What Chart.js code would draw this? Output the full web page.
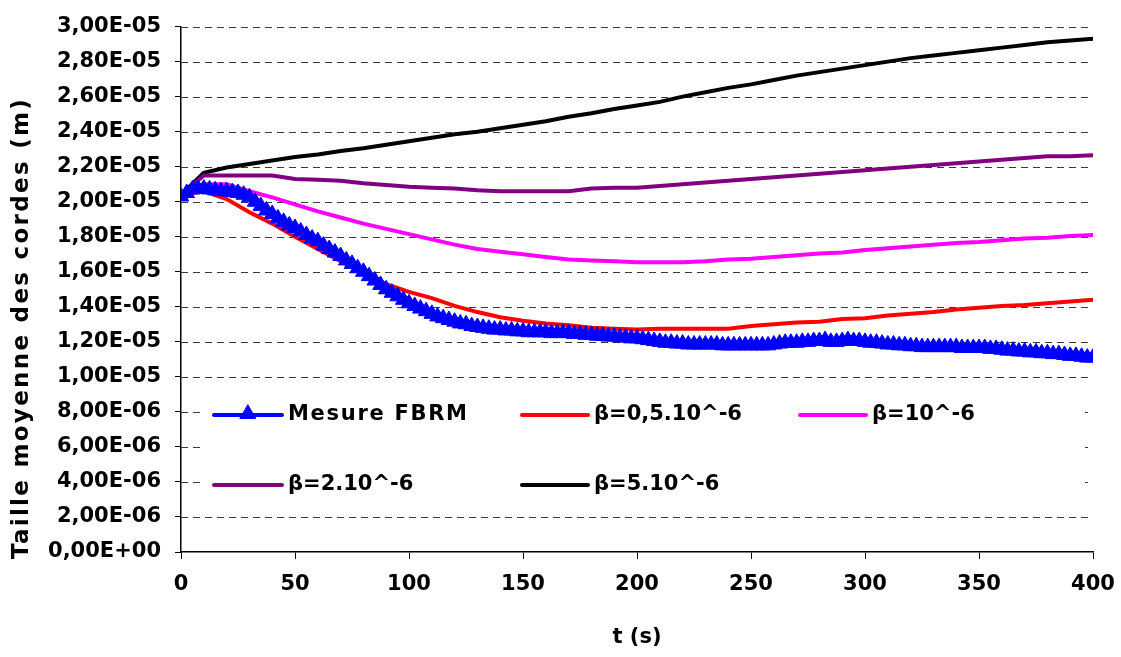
<!DOCTYPE html>
<html>
<head>
<meta charset="utf-8">
<script src="https://cdn.jsdelivr.net/npm/chart.js@4.4.0/dist/chart.umd.min.js"></script>
<style>
html, body { margin: 0; padding: 0; background: #fff; }
</style>
</head>
<body>
<canvas id="myChart" width="1121" height="657"></canvas>
<script>
// valeurs en micrometres (E-06 m)

// temps des simulations
const tModele = [0, 10, 20, 30, 40, 50, 60, 70, 80, 90, 100, 110, 120, 130, 140, 150, 160, 170, 180, 190, 200,
    210, 220, 230, 240, 250, 260, 270, 280, 290, 300, 310, 320, 330, 340, 350, 360, 370, 380, 390, 400];

const beta05 = [20.4, 20.6, 20.15, 19.4, 18.75, 18.0, 17.3, 16.6, 15.9, 15.3, 14.85, 14.5, 14.05, 13.7, 13.4, 13.2,
    13.05, 12.95, 12.8, 12.75, 12.7, 12.75, 12.75, 12.75, 12.75, 12.9, 13.0, 13.1, 13.15, 13.3, 13.35, 13.5, 13.6,
    13.7, 13.85, 13.95, 14.05, 14.1, 14.2, 14.3, 14.4];

const beta1 = [20.4, 21.0, 21.0, 20.6, 20.25, 19.85, 19.45, 19.1, 18.75, 18.45, 18.15, 17.85, 17.55, 17.3, 17.15,
    17.0, 16.85, 16.7, 16.65, 16.6, 16.55, 16.55, 16.55, 16.6, 16.7, 16.75, 16.85, 16.95, 17.05, 17.1, 17.25, 17.35,
    17.45, 17.55, 17.65, 17.7, 17.8, 17.9, 17.95, 18.05, 18.1];

const beta2 = [20.4, 21.5, 21.5, 21.5, 21.5, 21.3, 21.25, 21.2, 21.05, 20.95, 20.85, 20.8, 20.75, 20.65, 20.6, 20.6,
    20.6, 20.6, 20.75, 20.8, 20.8, 20.9, 21.0, 21.1, 21.2, 21.3, 21.4, 21.5, 21.6, 21.7, 21.8, 21.9, 22.0, 22.1, 22.2,
    22.3, 22.4, 22.5, 22.6, 22.6, 22.65];

const beta5 = [20.4, 21.65, 21.95, 22.15, 22.35, 22.55, 22.7, 22.9, 23.05, 23.25, 23.45, 23.65, 23.85, 24.0, 24.2,
    24.4, 24.6, 24.85, 25.05, 25.3, 25.5, 25.7, 26.0, 26.25, 26.5, 26.7, 26.95, 27.2, 27.4, 27.6, 27.8, 28.0, 28.2,
    28.35, 28.5, 28.65, 28.8, 28.95, 29.1, 29.2, 29.3];

// mesure FBRM
const tMesure = [0, 2.5, 5, 7.5, 10, 12.5, 15, 17.5, 20, 22.5, 25, 27.5, 30, 32.5, 35, 37.5, 40, 42.5, 45, 47.5,
    50, 52.5, 55, 57.5, 60, 62.5, 65, 67.5, 70, 72.5, 75, 77.5, 80, 82.5, 85, 87.5, 90, 92.5, 95, 97.5,
    100, 102.5, 105, 107.5, 110, 112.5, 115, 117.5, 120, 122.5, 125, 127.5, 130, 132.5, 135, 137.5, 140, 142.5, 145, 147.5,
    150, 152.5, 155, 157.5, 160, 162.5, 165, 167.5, 170, 172.5, 175, 177.5, 180, 182.5, 185, 187.5, 190, 192.5, 195, 197.5,
    200, 202.5, 205, 207.5, 210, 212.5, 215, 217.5, 220, 222.5, 225, 227.5, 230, 232.5, 235, 237.5, 240, 242.5, 245, 247.5,
    250, 252.5, 255, 257.5, 260, 262.5, 265, 267.5, 270, 272.5, 275, 277.5, 280, 282.5, 285, 287.5, 290, 292.5, 295, 297.5,
    300, 302.5, 305, 307.5, 310, 312.5, 315, 317.5, 320, 322.5, 325, 327.5, 330, 332.5, 335, 337.5, 340, 342.5, 345, 347.5,
    350, 352.5, 355, 357.5, 360, 362.5, 365, 367.5, 370, 372.5, 375, 377.5, 380, 382.5, 385, 387.5, 390, 392.5, 395, 397.5,
    400];

const mesureFBRM = [20.3, 20.5, 20.7, 20.75, 20.75, 20.7, 20.65, 20.6, 20.6, 20.55, 20.5, 20.4, 20.25, 20.0, 19.75, 19.5,
    19.3, 19.05, 18.85, 18.65, 18.5, 18.3, 18.1, 17.9, 17.75, 17.5, 17.3, 17.1, 16.9, 16.65, 16.45, 16.2, 16.0, 15.75,
    15.5, 15.25, 15.0, 14.8, 14.6, 14.4, 14.2, 14.05, 13.9, 13.75, 13.6, 13.45, 13.35, 13.25, 13.15, 13.05, 13.0, 12.9,
    12.85, 12.8, 12.75, 12.7, 12.7, 12.65, 12.65, 12.6, 12.6, 12.55, 12.55, 12.55, 12.55, 12.5, 12.5, 12.5, 12.5, 12.45,
    12.45, 12.4, 12.4, 12.35, 12.35, 12.3, 12.3, 12.25, 12.25, 12.2, 12.2, 12.15, 12.1, 12.05, 12.0, 11.95, 11.95, 11.9,
    11.9, 11.85, 11.85, 11.85, 11.85, 11.85, 11.85, 11.8, 11.8, 11.8, 11.8, 11.8, 11.8, 11.8, 11.8, 11.8, 11.85, 11.9,
    11.95, 11.95, 11.95, 12.0, 12.0, 12.05, 12.05, 12.1, 12.0, 12.0, 12.05, 12.1, 12.05, 12.05, 12.0, 11.95, 11.95, 11.9,
    11.85, 11.85, 11.8, 11.8, 11.75, 11.75, 11.7, 11.7, 11.7, 11.7, 11.7, 11.7, 11.7, 11.65, 11.65, 11.65, 11.65, 11.65,
    11.6, 11.6, 11.55, 11.5, 11.5, 11.45, 11.45, 11.4, 11.4, 11.35, 11.35, 11.3, 11.3, 11.25, 11.2, 11.2, 11.15, 11.1,
    11.1];

const yTicks = [0, 2, 4, 6, 8, 10, 12, 14, 16, 18, 20, 22, 24, 26, 28, 30];
const xTicks = [0, 50, 100, 150, 200, 250, 300, 350, 400];

const POLICE = "'DejaVu Sans', 'Liberation Sans', Arial, sans-serif";

function paires(ts, vs) {
    return ts.map((t, i) => ({ x: t, y: vs[i] }));
}

// format type Excel : 2,00E-05
function formatSci(v) {
    const m = v * 1e-6;
    if (Math.abs(m) < 1e-15) return "0,00E+00";
    const parts = m.toExponential(2).split("e");
    const ex = parseInt(parts[1]);
    const ae = Math.abs(ex);
    return parts[0].replace(".", ",") + "E" + (ex < 0 ? "-" : "+") + (ae < 10 ? "0" + ae : ae);
}

// lignes de grille en pointilles
const grilleTirets = {
    id: "grilleTirets",
    beforeDatasetsDraw(chart) {
        const ctx = chart.ctx;
        const a = chart.chartArea;
        const sy = chart.scales.y;
        ctx.save();
        ctx.strokeStyle = "#3a3a3a";
        ctx.lineWidth = 1;
        ctx.setLineDash([7, 5]);
        yTicks.forEach(v => {
            if (v === 0) return;
            const py = Math.round(sy.getPixelForValue(v)) + 0.5;
            ctx.beginPath();
            ctx.moveTo(a.left, py);
            ctx.lineTo(a.right, py);
            ctx.stroke();
        });
        ctx.restore();
    }
};

// legende dans la zone du graphique (fond blanc) + titre vertical
const legendeInterne = {
    id: "legendeInterne",
    afterDraw(chart) {
        const ctx = chart.ctx;
        const items = [
            { idx: 0, x: 214, y: 415, w: 68, esp: 1.7 },
            { idx: 1, x: 522, y: 415, w: 66, esp: 0 },
            { idx: 2, x: 800, y: 415, w: 66, esp: 0 },
            { idx: 3, x: 214, y: 485, w: 68, esp: 0 },
            { idx: 4, x: 522, y: 485, w: 66, esp: 0 }
        ];
        ctx.save();
        ctx.setLineDash([]);
        ctx.fillStyle = "#fff";
        ctx.fillRect(200, 393, 885, 110);
        items.forEach(it => {
            const ds = chart.data.datasets[it.idx];
            ctx.strokeStyle = ds.borderColor;
            ctx.lineWidth = 4;
            ctx.lineCap = "round";
            ctx.beginPath();
            ctx.moveTo(it.x, it.y);
            ctx.lineTo(it.x + it.w, it.y);
            ctx.stroke();
            if (ds.pointStyle === "triangle") {
                ctx.fillStyle = ds.borderColor;
                ctx.lineWidth = 1;
                Chart.helpers.drawPoint(ctx, { pointStyle: "triangle", radius: 9, borderWidth: 1, rotation: 0 },
                    it.x + it.w / 2, it.y - 1);
            }
            ctx.fillStyle = "#000";
            ctx.font = "bold 21px " + POLICE;
            ctx.letterSpacing = it.esp + "px";
            ctx.textAlign = "left";
            ctx.textBaseline = "middle";
            ctx.fillText(ds.label, it.x + it.w + 6, it.y);
        });
        ctx.letterSpacing = "2.3px";
        ctx.font = "bold 23px " + POLICE;
        ctx.translate(22, 328);
        ctx.rotate(-Math.PI / 2);
        ctx.textAlign = "center";
        ctx.textBaseline = "middle";
        ctx.fillText("Taille moyenne des cordes (m)", 0, 0);
        ctx.restore();
    }
};

const data = {
    datasets: [
        {
            label: "Mesure FBRM",
            data: paires(tMesure, mesureFBRM),
            borderColor: "#0000FF",
            backgroundColor: "#0000FF",
            borderWidth: 3,
            pointStyle: "triangle",
            pointRadius: 9,
            pointBorderWidth: 1
        },
        {
            label: "β=0,5.10^-6",
            data: paires(tModele, beta05),
            borderColor: "#FF0000",
            borderWidth: 4,
            pointRadius: 0
        },
        {
            label: "β=10^-6",
            data: paires(tModele, beta1),
            borderColor: "#FF00FF",
            borderWidth: 4,
            pointRadius: 0
        },
        {
            label: "β=2.10^-6",
            data: paires(tModele, beta2),
            borderColor: "#800080",
            borderWidth: 4,
            pointRadius: 0
        },
        {
            label: "β=5.10^-6",
            data: paires(tModele, beta5),
            borderColor: "#000000",
            borderWidth: 4,
            pointRadius: 0
        }
    ]
};

const config = {
    type: "line",
    data,
    options: {
        responsive: false,
        animation: false,
        devicePixelRatio: 1,
        layout: { padding: { left: 0, right: 28, top: 21, bottom: 0 } },
        plugins: {
            legend: { display: false },
            tooltip: { enabled: false }
        },
        scales: {
            x: {
                type: "linear",
                min: 0,
                max: 400,
                afterBuildTicks: (axis) => { axis.ticks = xTicks.map(v => ({ value: v })); },
                afterFit: (axis) => {
                    axis.height = 105;
                    axis.paddingLeft = 0;
                    axis.paddingRight = 0;
                },
                ticks: {
                    color: "#000",
                    font: { family: POLICE, size: 21, weight: "bold" },
                    padding: 13,
                    maxRotation: 0
                },
                grid: {
                    drawOnChartArea: false,
                    drawTicks: true,
                    tickLength: 7,
                    tickColor: "#000",
                    tickWidth: 1
                },
                border: { display: true, color: "#000", width: 1.5 },
                title: {
                    display: true,
                    text: "t (s)",
                    color: "#000",
                    font: { family: POLICE, size: 21, weight: "bold" },
                    padding: { top: 0, bottom: 7 }
                }
            },
            y: {
                type: "linear",
                min: 0,
                max: 30,
                afterBuildTicks: (axis) => { axis.ticks = yTicks.map(v => ({ value: v })); },
                afterFit: (axis) => { axis.width = 181; },
                ticks: {
                    color: "#000",
                    font: { family: POLICE, size: 21, weight: "bold" },
                    padding: 14,
                    callback: (v) => formatSci(v)
                },
                grid: {
                    drawOnChartArea: false,
                    drawTicks: true,
                    tickLength: 6,
                    tickColor: "#000"
                },
                border: { display: true, color: "#000", width: 1.5 },
                title: { display: false }
            }
        }
    },
    plugins: [grilleTirets, legendeInterne]
};

const myChart = new Chart(document.getElementById("myChart"), config);
</script>
</body>
</html>
